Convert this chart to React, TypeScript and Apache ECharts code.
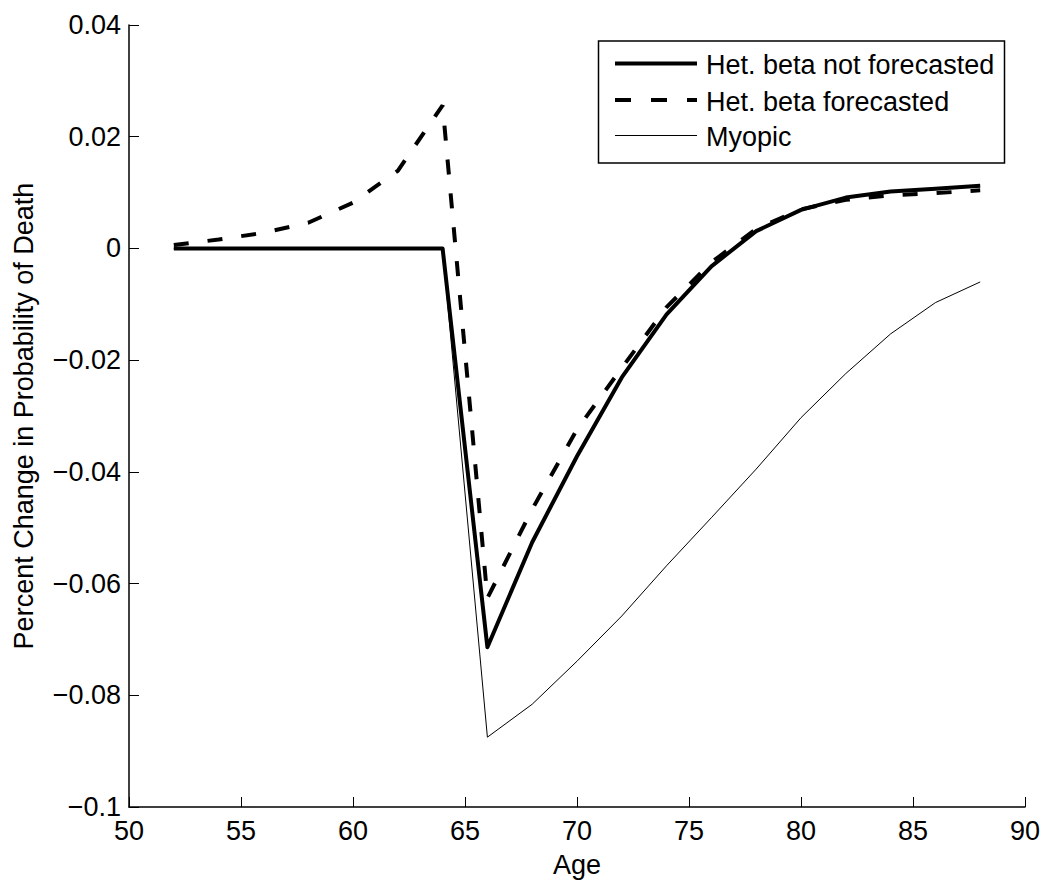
import React, { useEffect, useRef } from "react";
import * as echarts from "echarts";

const ages = [52, 54, 56, 58, 60, 62, 64, 66, 68, 70, 72, 74, 76, 78, 80, 82, 84, 86, 88];
const notForecasted = [0, 0, 0, 0, 0, 0, 0, -0.0714, -0.0526, -0.0372, -0.0231, -0.0118, -0.0032, 0.0031, 0.0069, 0.0091, 0.0102, 0.0107, 0.0112];
const forecasted = [0.0006, 0.0016, 0.0028, 0.0046, 0.0082, 0.0139, 0.0256, -0.0626, -0.0467, -0.0324, -0.0214, -0.0105, -0.0025, 0.0035, 0.007, 0.0087, 0.0095, 0.0099, 0.0104];
const myopic = [0, 0, 0, 0, 0, 0, 0, -0.0875, -0.0816, -0.0739, -0.0658, -0.0568, -0.0482, -0.0395, -0.0303, -0.0224, -0.0153, -0.0097, -0.006];
const seriesNames = ["Het. beta not forecasted", "Het. beta forecasted", "Myopic"];
const xTitle = "Age";
const yTitle = "Percent Change in Probability of Death";

const FONT = "'Liberation Sans', Arial, Helvetica, sans-serif";
const FS = 27;

function fmtY(v: number): string {
  if (Math.abs(v) < 1e-12) return "0";
  const s = String(Number(Math.abs(v).toFixed(2)));
  return (v < 0 ? "\u2212" : "") + s;
}

export default function App() {
  const ref = useRef<HTMLDivElement>(null);
  useEffect(() => {
    if (!ref.current) return;
    const chart = echarts.init(ref.current, null, { renderer: "svg" });
    const pairs = (arr: number[]) => ages.map((a, i) => [a, arr[i]]);
    const legendRows = [
      { y: 63.5, style: { stroke: "#000", lineWidth: 4 } },
      { y: 100, style: { stroke: "#000", lineWidth: 4, lineDash: [16, 20] } },
      { y: 135.5, style: { stroke: "#000", lineWidth: 1 } },
    ];
    const graphic: any[] = [
      {
        type: "rect",
        shape: { x: 598.5, y: 41, width: 406, height: 122 },
        style: { fill: "#fff", stroke: "#000", lineWidth: 1.5 },
        z: 100,
      },
    ];
    legendRows.forEach((r, i) => {
      graphic.push({
        type: "line",
        shape: { x1: 615, y1: r.y, x2: 697, y2: r.y },
        style: r.style,
        z: 101,
      });
      graphic.push({
        type: "text",
        x: 706,
        y: r.y + 1.5,
        style: {
          text: seriesNames[i],
          font: `${FS}px ${FONT}`,
          fill: "#000",
          verticalAlign: "middle",
          align: "left",
        },
        z: 101,
      });
    });
    chart.setOption({
      animation: false,
      backgroundColor: "#fff",
      textStyle: { fontFamily: FONT },
      grid: { left: 129, right: 19, top: 25, bottom: 86, containLabel: false },
      xAxis: {
        type: "value",
        min: 50,
        max: 90,
        interval: 5,
        name: xTitle,
        nameLocation: "middle",
        nameGap: 44,
        nameTextStyle: { fontSize: FS, color: "#000", fontFamily: FONT },
        axisLine: { show: true, onZero: false, lineStyle: { color: "#000", width: 1.5 } },
        axisTick: { show: true, inside: true, length: 10, lineStyle: { color: "#000", width: 1 } },
        axisLabel: { fontSize: FS, color: "#000", margin: 10, fontFamily: FONT },
        splitLine: { show: false },
      },
      yAxis: {
        type: "value",
        min: -0.1,
        max: 0.04,
        interval: 0.02,
        name: yTitle,
        nameLocation: "middle",
        nameGap: 92,
        nameTextStyle: { fontSize: FS, color: "#000", fontFamily: FONT },
        axisLine: { show: true, onZero: false, lineStyle: { color: "#000", width: 1.5 } },
        axisTick: { show: true, inside: true, length: 10, lineStyle: { color: "#000", width: 1 } },
        axisLabel: { fontSize: FS, color: "#000", margin: 8, fontFamily: FONT, formatter: (v: number) => fmtY(v) },
        splitLine: { show: false },
      },
      series: [
        {
          name: seriesNames[2],
          type: "line",
          data: pairs(myopic),
          showSymbol: false,
          symbol: "none",
          lineStyle: { color: "#000", width: 1 },
          z: 2,
        },
        {
          name: seriesNames[0],
          type: "line",
          data: pairs(notForecasted),
          showSymbol: false,
          symbol: "none",
          lineStyle: { color: "#000", width: 4, join: "round" },
          z: 3,
        },
        {
          name: seriesNames[1],
          type: "line",
          data: pairs(forecasted),
          showSymbol: false,
          symbol: "none",
          lineStyle: { color: "#000", width: 4, type: [15, 19] },
          z: 4,
        },
      ],
      graphic,
    });
    return () => chart.dispose();
  }, []);
  return (
    <div
      ref={ref}
      style={{ position: "fixed", left: 0, top: 0, width: 1044, height: 893, background: "#fff" }}
    />
  );
}
